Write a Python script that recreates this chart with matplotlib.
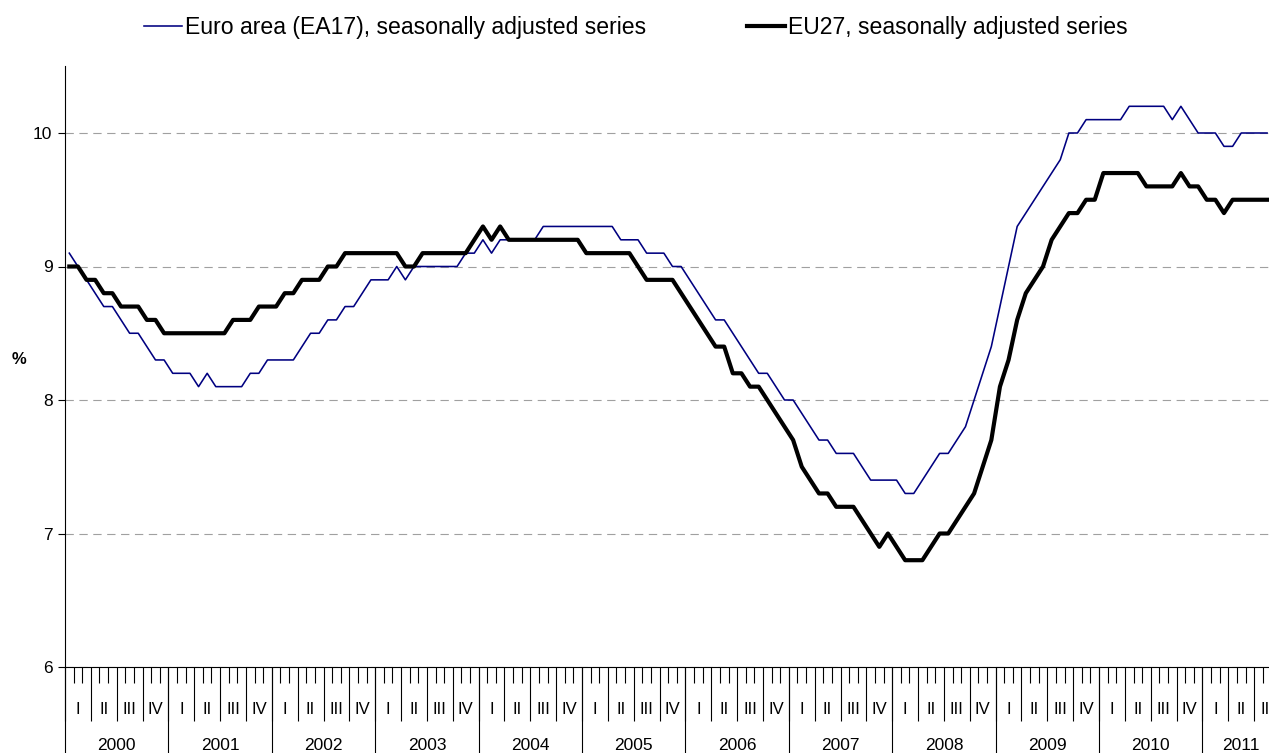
import matplotlib
matplotlib.use("Agg")
import matplotlib.pyplot as plt
import numpy as np

plt.rcParams['font.family'] = ['Liberation Sans', 'DejaVu Sans']

# ---------------- data ----------------
years = [2000, 2001, 2002, 2003, 2004, 2005, 2006, 2007, 2008, 2009, 2010, 2011]
quarter_labels = ["I", "II", "III", "IV"]
series_labels = ["Euro area (EA17), seasonally adjusted series",
                 "EU27, seasonally adjusted series"]
y_ticks = [6, 7, 8, 9, 10]

# monthly values, Jan 2000 - Aug 2011
ea17 = [
    9.1, 9.0, 8.9, 8.8, 8.7, 8.7, 8.6, 8.5, 8.5, 8.4, 8.3, 8.3,      # 2000
    8.2, 8.2, 8.2, 8.1, 8.2, 8.1, 8.1, 8.1, 8.1, 8.2, 8.2, 8.3,      # 2001
    8.3, 8.3, 8.3, 8.4, 8.5, 8.5, 8.6, 8.6, 8.7, 8.7, 8.8, 8.9,      # 2002
    8.9, 8.9, 9.0, 8.9, 9.0, 9.0, 9.0, 9.0, 9.0, 9.0, 9.1, 9.1,      # 2003
    9.2, 9.1, 9.2, 9.2, 9.2, 9.2, 9.2, 9.3, 9.3, 9.3, 9.3, 9.3,      # 2004
    9.3, 9.3, 9.3, 9.3, 9.2, 9.2, 9.2, 9.1, 9.1, 9.1, 9.0, 9.0,      # 2005
    8.9, 8.8, 8.7, 8.6, 8.6, 8.5, 8.4, 8.3, 8.2, 8.2, 8.1, 8.0,      # 2006
    8.0, 7.9, 7.8, 7.7, 7.7, 7.6, 7.6, 7.6, 7.5, 7.4, 7.4, 7.4,      # 2007
    7.4, 7.3, 7.3, 7.4, 7.5, 7.6, 7.6, 7.7, 7.8, 8.0, 8.2, 8.4,      # 2008
    8.7, 9.0, 9.3, 9.4, 9.5, 9.6, 9.7, 9.8, 10.0, 10.0, 10.1, 10.1,  # 2009
    10.1, 10.1, 10.1, 10.2, 10.2, 10.2, 10.2, 10.2, 10.1, 10.2, 10.1, 10.0,  # 2010
    10.0, 10.0, 9.9, 9.9, 10.0, 10.0, 10.0, 10.0,                    # 2011
]
eu27 = [
    9.0, 9.0, 8.9, 8.9, 8.8, 8.8, 8.7, 8.7, 8.7, 8.6, 8.6, 8.5,      # 2000
    8.5, 8.5, 8.5, 8.5, 8.5, 8.5, 8.5, 8.6, 8.6, 8.6, 8.7, 8.7,      # 2001
    8.7, 8.8, 8.8, 8.9, 8.9, 8.9, 9.0, 9.0, 9.1, 9.1, 9.1, 9.1,      # 2002
    9.1, 9.1, 9.1, 9.0, 9.0, 9.1, 9.1, 9.1, 9.1, 9.1, 9.1, 9.2,      # 2003
    9.3, 9.2, 9.3, 9.2, 9.2, 9.2, 9.2, 9.2, 9.2, 9.2, 9.2, 9.2,      # 2004
    9.1, 9.1, 9.1, 9.1, 9.1, 9.1, 9.0, 8.9, 8.9, 8.9, 8.9, 8.8,      # 2005
    8.7, 8.6, 8.5, 8.4, 8.4, 8.2, 8.2, 8.1, 8.1, 8.0, 7.9, 7.8,      # 2006
    7.7, 7.5, 7.4, 7.3, 7.3, 7.2, 7.2, 7.2, 7.1, 7.0, 6.9, 7.0,      # 2007
    6.9, 6.8, 6.8, 6.8, 6.9, 7.0, 7.0, 7.1, 7.2, 7.3, 7.5, 7.7,      # 2008
    8.1, 8.3, 8.6, 8.8, 8.9, 9.0, 9.2, 9.3, 9.4, 9.4, 9.5, 9.5,      # 2009
    9.7, 9.7, 9.7, 9.7, 9.7, 9.6, 9.6, 9.6, 9.6, 9.7, 9.6, 9.6,      # 2010
    9.5, 9.5, 9.4, 9.5, 9.5, 9.5, 9.5, 9.5,                          # 2011
]

# ---------------- layout ----------------
W, H = 1269, 753
axis_months = 141          # category axis runs through end of Q3 2011
month_px = 8.617
fig = plt.figure(figsize=(W / 100, H / 100), dpi=100)
ax = fig.add_axes([65 / W, 86 / H, axis_months * month_px / W, 600.75 / H])

l1, = ax.plot(np.arange(len(ea17)) + 0.5, ea17, color="#000080", lw=1.15,
              label=series_labels[0], zorder=3)
l2, = ax.plot(np.arange(len(eu27)) + 0.5, eu27, color="black", lw=3.0,
              label=series_labels[1], zorder=4)

ax.set_xlim(0, axis_months)
ax.set_ylim(6, 10.5)

# y axis
ax.set_yticks(y_ticks)
ax.set_yticklabels([str(v) for v in y_ticks])
ax.tick_params(axis="y", length=5, width=0.8, pad=4, labelsize=12.5, colors="black")
ax.yaxis.grid(True, color="#A0A0A0", linestyle=(0, (7.5, 5)), lw=0.8)
ax.set_axisbelow(True)
ax.set_ylabel("%", rotation=0, fontweight="bold", fontsize=12)
ax.yaxis.set_label_coords(-46 / (axis_months * month_px), 0.5)

for s in ("top", "right"):
    ax.spines[s].set_visible(False)
for s in ("left", "bottom"):
    ax.spines[s].set_linewidth(0.8)

# x axis: months (minor), quarters (major), years (long separators)
ax.set_xticks(np.arange(0, axis_months + 1, 3))
ax.set_xticks(np.arange(0, axis_months + 1, 1), minor=True)
ax.tick_params(axis="x", which="major", length=39, width=0.8, labelbottom=False)
ax.tick_params(axis="x", which="minor", length=11.5, width=0.8)

xt = ax.get_xaxis_transform()
year_starts = [12 * k for k in range(len(years))]
ax.vlines(year_starts, -0.2, 0, transform=xt, colors="black", lw=0.8, clip_on=False)

for k in range(axis_months // 3):
    c = 3 * k + 1.5
    ax.text(c, -0.0715, quarter_labels[k % 4], transform=xt, ha="center",
            va="center", fontsize=12)

for k, yr in enumerate(years):
    start = 12 * k
    end = min(start + 12, axis_months)
    ax.text((start + end) / 2, -0.1307, str(yr), transform=xt, ha="center",
            va="center", fontsize=12.5)

fig.legend(handles=[l1, l2], labels=series_labels, loc="center",
           bbox_to_anchor=(0.501, 0.964), ncol=2, frameon=False,
           handlelength=1.65, handletextpad=0.1, columnspacing=4.4, fontsize=16.6)

fig.savefig("out.png", dpi=100)
